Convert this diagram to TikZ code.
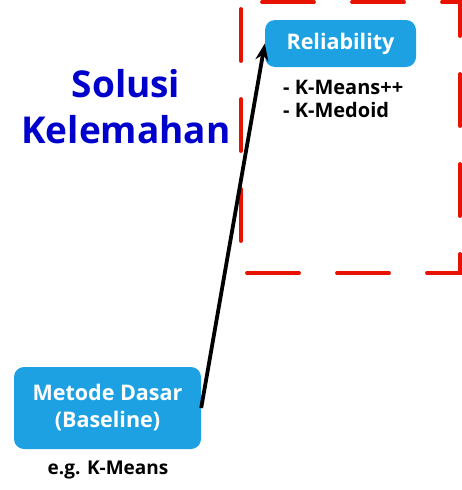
\documentclass[tikz,border=0pt]{standalone}
\usepackage{fontspec}
\setmainfont{Open Sans}
\usepackage{tikz}
\usetikzlibrary{shapes,arrows.meta}
\definecolor{boxblue}{RGB}{29,161,226}
\definecolor{titleblue}{RGB}{0,0,204}
\definecolor{framered}{RGB}{232,18,0}
\tikzset{blk/.style={rectangle,rounded corners=10pt,fill=boxblue,text=white,align=center,inner sep=0pt}}

\begin{document}
\begin{tikzpicture}[>={Stealth[length=17pt,width=13pt]},x=1pt,y=-1pt]
        \useasboundingbox (0,0) rectangle (462,490);
        \draw [framered,line width=3.8pt,line cap=round,dash pattern=on 52pt off 38pt,dash phase=83pt] (241,2) -- (241,273) -- (460,273) -- (460,2) -- cycle;

        \node[anchor=base,text=titleblue,align=center,font=\bfseries\fontsize{37}{46}\selectfont] (title) at (126,143) {Solusi\\Kelemahan};
        \node[blk,minimum width=151pt,minimum height=47pt,font=\bfseries\fontsize{21.5}{24}\selectfont] (rel) at (340.5,43.5) {Reliability};
        \node[anchor=base west,align=left,inner sep=0pt,font=\bfseries\fontsize{20}{23}\selectfont] (var) at (283,117) {- K-Means++\\- K-Medoid};
        \node[blk,minimum width=187pt,minimum height=82pt,font=\bfseries\fontsize{21.5}{27}\selectfont] (base) at (107.5,408) {Metode Dasar\\(Baseline)};
        \node[anchor=base,inner sep=0pt,font=\bfseries\fontsize{19}{20}\selectfont] (eg) at (108,474) {e.g. K-Means};

        \draw [->,line width=3.8pt] (base.east) to [] (rel.west);
    \end{tikzpicture}
\end{document}
